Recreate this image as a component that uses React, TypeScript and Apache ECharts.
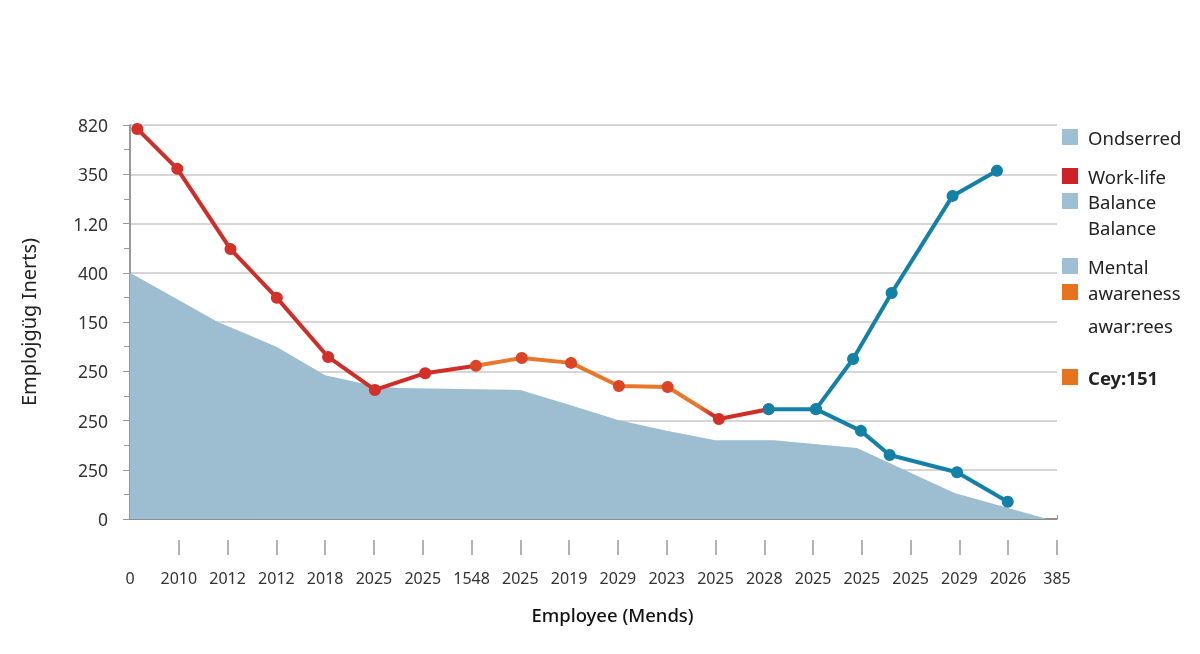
import { useEffect, useRef } from 'react';
import * as echarts from 'echarts';

// axis labels as printed on the chart
const xLabels = ['0', '2010', '2012', '2012', '2018', '2025', '2025', '1548', '2025', '2019', '2029', '2023', '2025', '2028', '2025', '2025', '2025', '2029', '2026', '385'];
const yLabels = ['0', '250', '250', '250', '150', '400', '1.20', '350', '820'];

// background area
const areaX = [0, 1.8, 3, 4, 5, 5.5, 8, 9, 10, 11, 12, 13.2, 14.9, 15.6, 16.9, 18.8];
const areaY = [5.0, 4.0, 3.5, 2.92, 2.7, 2.66, 2.62, 2.32, 2.01, 1.79, 1.6, 1.6, 1.44, 1.12, 0.53, 0];

// work-life line
const workX = [0.15, 0.97, 2.06, 3.01, 4.06, 5.02, 6.05, 7.09, 8.03, 9.04, 10.02, 11.02, 12.07, 13.09];
const workY = [7.92, 7.11, 5.48, 4.49, 3.29, 2.62, 2.96, 3.11, 3.27, 3.17, 2.7, 2.68, 2.03, 2.23];

// mental awareness lines
const mentalUpX = [13.09, 14.06, 14.82, 15.61, 16.86, 17.77];
const mentalUpY = [2.23, 2.23, 3.25, 4.59, 6.56, 7.07];
const mentalDownX = [14.06, 14.98, 15.57, 16.95, 17.99];
const mentalDownY = [2.23, 1.79, 1.3, 0.95, 0.35];

const legendLabels = ['Ondserred', 'Work-life', 'Balance', 'Balance', 'Mental', 'awareness', 'awar:rees', 'Cey:151'];
const legendColors = ['#9fc0d4', '#cc2228', '#9fc0d4', '', '#9fc0d4', '#e8731f', '', '#e8731f'];

const RED = '#cf2d27';
const ORANGE = '#e8772b';
const BLUE = '#1381a6';
const AREA = '#9dbdd1';
const FONT = '"Noto Sans", sans-serif';

const pairs = (xs: number[], ys: number[]) => xs.map((x, i) => [x, ys[i]]);

export default function App() {
  const el = useRef<HTMLDivElement>(null);

  useEffect(() => {
    if (!el.current) return;
    const chart = echarts.init(el.current, undefined, { renderer: 'svg' });

    const ticks = xLabels.map((_, i) => i).slice(1);
    const legendY = [137, 176, 201, 227, 266, 292, 325, 377];

    const graphic: any[] = [];
    legendLabels.forEach((label, i) => {
      const cy = legendY[i];
      if (legendColors[i]) {
        graphic.push({
          type: 'rect',
          shape: { x: 1062, y: cy - 8, width: 16, height: 16 },
          style: { fill: legendColors[i] },
        });
      }
      graphic.push({
        type: 'text',
        x: 1088,
        y: cy,
        style: {
          text: label,
          fill: '#222',
          fontSize: 18.5,
          fontWeight: i === 7 ? 'bold' : 'normal',
          fontFamily: FONT,
          verticalAlign: 'middle',
        },
      });
    });

    chart.setOption({
      animation: false,
      textStyle: { fontFamily: FONT },
      grid: { left: 130, right: 143, top: 125, bottom: 135 },
      xAxis: [
        {
          type: 'value',
          min: 0,
          max: 19,
          interval: 1,
          axisLine: { show: true, lineStyle: { color: '#777', width: 1.5 } },
          axisTick: { show: true, inside: true, length: 4, customValues: ticks, lineStyle: { color: '#999' } },
          splitLine: { show: false },
          axisLabel: {
            margin: 51,
            fontSize: 16,
            color: '#333',
            formatter: (v: number) => xLabels[v] ?? '',
          },
          name: 'Employee (Mends)',
          nameLocation: 'middle',
          nameGap: 86,
          nameTextStyle: { fontSize: 18.5, color: '#111', fontWeight: 500, padding: [0, 0, 0, 38] },
        },
        {
          type: 'value',
          min: 0,
          max: 19,
          interval: 1,
          position: 'bottom',
          offset: 21,
          axisLine: { show: false },
          axisTick: { show: true, length: 15, customValues: ticks, lineStyle: { color: '#999', width: 1.5 } },
          axisLabel: { show: false },
          splitLine: { show: false },
        },
      ],
      yAxis: {
        type: 'value',
        min: 0,
        max: 8,
        interval: 1,
        axisLine: { show: true, lineStyle: { color: '#777', width: 1.5 } },
        axisTick: { show: true, length: 7, lineStyle: { color: '#999' } },
        minorTick: { show: true, splitNumber: 2, length: 6, lineStyle: { color: '#999' } },
        splitLine: { lineStyle: { color: '#c8c8c8', width: 1.5 } },
        axisLabel: {
          margin: 22,
          fontSize: 17.5,
          color: '#333',
          formatter: (v: number) => yLabels[v] ?? '',
        },
        name: 'Emplojgüg Inerts)',
        nameLocation: 'middle',
        nameGap: 92,
        nameTextStyle: { fontSize: 20, color: '#222' },
      },
      graphic,
      series: [
        {
          type: 'line',
          data: pairs(areaX, areaY),
          symbol: 'none',
          lineStyle: { width: 0 },
          areaStyle: { color: AREA, opacity: 1 },
          z: 1,
        },
        {
          type: 'line',
          data: pairs(workX, workY),
          symbol: 'circle',
          symbolSize: 12,
          lineStyle: {
            width: 4,
            color: new echarts.graphic.LinearGradient(0, 0, 1, 0, [
              { offset: 0, color: RED },
              { offset: 0.53, color: RED },
              { offset: 0.545, color: ORANGE },
              { offset: 0.89, color: ORANGE },
              { offset: 0.91, color: RED },
              { offset: 1, color: RED },
            ]),
          },
          itemStyle: {
            color: (p: any) => (p.dataIndex >= 7 && p.dataIndex <= 11 ? '#dc4426' : '#d3302a'),
          },
          z: 3,
        },
        {
          type: 'line',
          data: pairs(mentalUpX, mentalUpY),
          symbol: 'circle',
          symbolSize: 12,
          lineStyle: { width: 4, color: BLUE },
          itemStyle: { color: BLUE },
          z: 4,
        },
        {
          type: 'line',
          data: pairs(mentalDownX, mentalDownY),
          symbol: 'circle',
          symbolSize: 12,
          lineStyle: { width: 4, color: BLUE },
          itemStyle: { color: BLUE },
          z: 4,
        },
      ],
    });

    return () => {
      chart.dispose();
    };
  }, []);

  return <div ref={el} style={{ position: 'fixed', left: 0, top: 0, width: 1200, height: 654 }} />;
}
